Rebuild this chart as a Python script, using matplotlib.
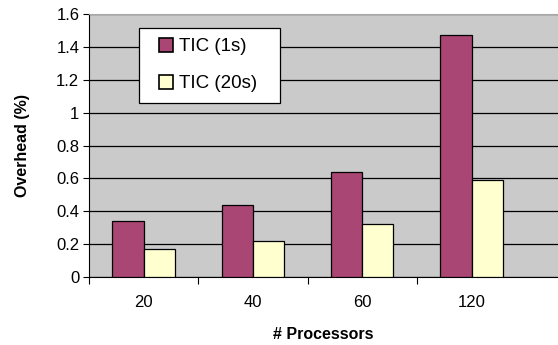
import numpy as np
import matplotlib.pyplot as plt
from matplotlib.lines import Line2D

plt.rcParams['font.family'] = ['Liberation Sans', 'DejaVu Sans']

# データ
categories = ['20', '40', '60', '120']
tic_1s = [0.34, 0.44, 0.64, 1.47]
tic_20s = [0.17, 0.22, 0.32, 0.59]
series_names = ['TIC (1s)', 'TIC (20s)']
colors = ['#A94673', '#FFFFD0']

fig = plt.figure(figsize=(5.58, 3.45), dpi=100)
ax = fig.add_axes([89 / 558, 68 / 345, 1 - 89 / 558, 263 / 345])
ax.set_facecolor('#CACACA')

x = np.arange(len(categories))
w = 0.285
ax.bar(x - w / 2, tic_1s, w, color=colors[0], edgecolor='black', linewidth=0.9, zorder=3)
ax.bar(x + w / 2, tic_20s, w, color=colors[1], edgecolor='black', linewidth=0.9, zorder=3)

ax.set_ylim(0, 1.6)
ax.set_yticks(np.arange(0, 1.61, 0.2))
ax.set_yticklabels(['0', '0.2', '0.4', '0.6', '0.8', '1', '1.2', '1.4', '1.6'])
ax.yaxis.grid(True, color='black', linewidth=0.9, zorder=1)
ax.set_axisbelow(True)

ax.set_xlim(-0.5, -0.5 + 469 / 109.3)
ax.set_xticks(np.arange(-0.5, len(categories) - 1, 1.0))
ax.set_xticklabels([])
ax.set_xticks(x, minor=True)
ax.set_xticklabels(categories, minor=True)
ax.tick_params(axis='x', which='minor', length=0, pad=13, labelsize=12)
ax.tick_params(axis='x', which='major', length=5, direction='out', width=0.8)
ax.tick_params(axis='y', length=4, direction='out', width=0.8, labelsize=12, pad=3)

ax.spines['right'].set_visible(False)
ax.spines['top'].set_color('#A8A8A8')
ax.spines['left'].set_color('black')
ax.spines['bottom'].set_color('black')

ax.set_xlabel('# Processors', fontweight='bold', fontsize=11.5, labelpad=12)
ax.set_ylabel('Overhead (%)', fontweight='bold', fontsize=11.5, labelpad=19)

handles = [Line2D([], [], linestyle='none', marker='s', markersize=10,
                  markerfacecolor=c, markeredgecolor='black', markeredgewidth=1.2)
           for c in colors]
leg = ax.legend(handles, series_names, loc='upper left',
                bbox_to_anchor=(139 / 558, 1 - 101 / 345, 141 / 558, 73 / 345),
                bbox_transform=fig.transFigure, mode='expand', fontsize=13.5,
                frameon=True, fancybox=False, edgecolor='black', framealpha=1,
                handlelength=1.8, handletextpad=-0.2,
                borderpad=0.55, labelspacing=1.05, borderaxespad=0)
leg.get_frame().set_linewidth(0.9)

fig.savefig('out.png', dpi=100)
